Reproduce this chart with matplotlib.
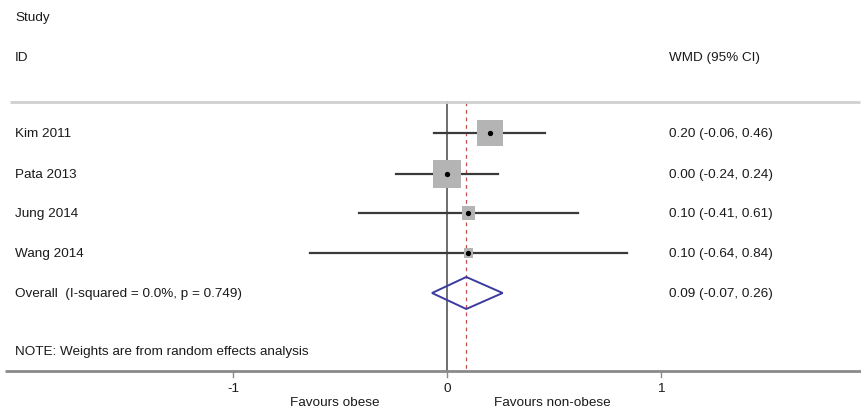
import matplotlib
matplotlib.use("Agg")
import matplotlib.pyplot as plt
from matplotlib.patches import Polygon, Rectangle

plt.rcParams['font.family'] = ['Liberation Sans', 'DejaVu Sans']

studies = ["Kim 2011", "Pata 2013", "Jung 2014", "Wang 2014"]
wmd = [0.20, 0.00, 0.10, 0.10]
lower = [-0.06, -0.24, -0.41, -0.64]
upper = [0.46, 0.24, 0.61, 0.84]
weights = [39.1, 45.9, 10.2, 4.8]   # random-effects weights (%), scale the boxes
overall = (0.09, -0.07, 0.26)
overall_label = "Overall  (I-squared = 0.0%, p = 0.749)"
tick_values = [-1, 0, 1]
tick_labels = ["-1", "0", "1"]

W, H = 862, 410
fig = plt.figure(figsize=(W / 100, H / 100), dpi=100)
ax = fig.add_axes([0, 0, 1, 1])
# x in effect units, y in rows measured down from the top
x0_px, unit_px = 447, 214
ax.set_xlim(-x0_px / unit_px, (W - x0_px) / unit_px)
ax.set_ylim(H, 0)
ax.axis("off")

def px(col):
    return (col - x0_px) / unit_px

FS = 9.7
TXT_C = "#1a1a1a"
txt = dict(fontsize=FS, color=TXT_C, va="center")
left_x, right_x = 15, 669
row_y = [134, 175, 214, 254]
overall_y = 294
top_y, axis_y = 103, 372

ax.text(px(left_x), 18, "Study", **txt)
ax.text(px(left_x), 58, "ID", **txt)
ax.text(px(right_x), 58, "WMD (95% CI)", **txt)

ax.plot([px(10), px(860)], [top_y, top_y], color="#d0d0d0", lw=2, solid_capstyle="butt")
ax.plot([0, 0], [top_y, axis_y], color="#6e6e6e", lw=1.4, zorder=1)
ax.plot([overall[0], overall[0]], [top_y, axis_y], color="#c0504d", lw=0.9,
        ls=(0, (3, 3)), zorder=1)

wmax = max(weights)
for name, m, lo, hi, w, y in zip(studies, wmd, lower, upper, weights, row_y):
    ax.text(px(left_x), y, name, **txt)
    ax.text(px(right_x), y, f"{m:.2f} ({lo:.2f}, {hi:.2f})", **txt)
    ax.plot([lo, hi], [y, y], color="#3a3a3a", lw=1.6, zorder=2)
    side = 28 * (w / wmax) ** 0.5
    ax.add_patch(Rectangle((m - side / 2 / unit_px, y - side / 2), side / unit_px, side,
                           facecolor="#b4b4b4", edgecolor="none", zorder=3))
    ax.plot([m], [y], "o", color="black", ms=2.8, zorder=4)

ax.text(px(left_x), overall_y, overall_label, **txt)
m, lo, hi = overall
ax.text(px(right_x), overall_y, f"{m:.2f} ({lo:.2f}, {hi:.2f})", **txt)
ax.add_patch(Polygon([[lo, overall_y], [m, overall_y - 16], [hi, overall_y],
                      [m, overall_y + 16]], closed=True, fill=False,
                     edgecolor="#3b3ba0", lw=1.4, zorder=3))

ax.text(px(left_x), 352, "NOTE: Weights are from random effects analysis", **txt)

ax.plot([px(5), px(862)], [axis_y, axis_y], color="#8a8a8a", lw=2, solid_capstyle="butt")
for v, lab in zip(tick_values, tick_labels):
    ax.plot([v, v], [axis_y, axis_y + 6], color="#8a8a8a", lw=1)
    ax.text(v, 389, lab, ha="center", fontsize=FS, color=TXT_C, va="center")
ax.text(px(335), 403, "Favours obese", ha="center", fontsize=FS, color=TXT_C, va="center")
ax.text(px(552), 403, "Favours non-obese", ha="center", fontsize=FS, color=TXT_C, va="center")

fig.savefig("out.png", dpi=100, facecolor="white")
